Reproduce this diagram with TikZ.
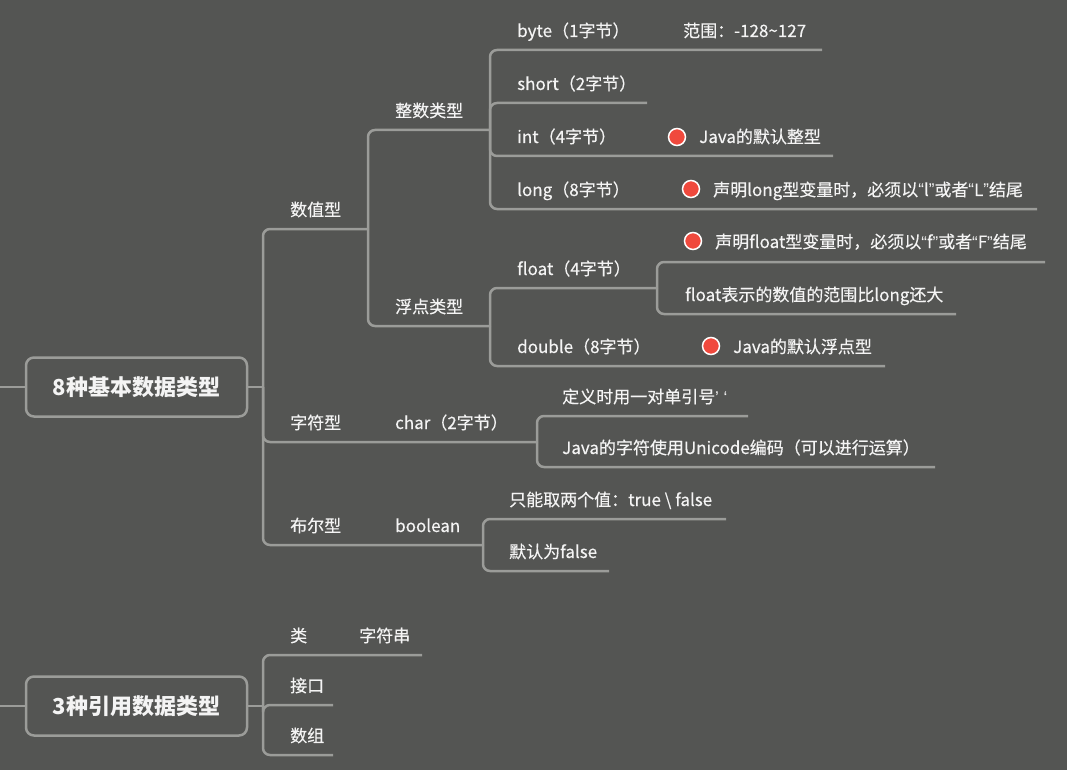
\documentclass[tikz,border=0pt]{standalone}
\usepackage{fontspec}
\setmainfont{Noto Sans CJK SC}
\newfontfamily\qfont{Liberation Sans}
\newfontfamily\lblfont{Noto Sans CJK SC}[FakeBold=0.3]
\definecolor{bg}{HTML}{545553}
\definecolor{ln}{HTML}{9B9C99}
\definecolor{tx}{HTML}{F4F4F4}
\definecolor{dotred}{HTML}{F0493D}
\tikzset{
  branch/.style={draw=ln, line width=2.5pt, rounded corners=7pt},
  lbl/.style={anchor=base west, inner sep=0pt, yshift=2pt, text=tx,
    font=\lblfont\fontsize{17}{20}\selectfont},
  rootbox/.style={draw=ln, line width=2.5pt, rounded corners=8pt, minimum width=221pt,
    minimum height=59pt, text=tx, font=\fontsize{22}{26}\selectfont\bfseries},
  reddot/.style={fill=dotred, draw=white, line width=1.5pt}
}
\begin{document}
\begin{tikzpicture}[x=1pt, y=-1pt]
  \fill[bg] (0,0) rectangle (1067,770);
  \useasboundingbox (0,0) rectangle (1067,770);

  % roots
  \node[rootbox] (basic) at (136.5,387) {8种基本数据类型};
  \node[rootbox] (ref) at (136.5,706) {3种引用数据类型};
  \coordinate (inA) at (0,387);
  \coordinate (inB) at (0,706);
  \coordinate (fA) at (263,387);
  \coordinate (fB) at (263,706);
  \draw[branch] (inA) -- (basic.west);
  \draw[branch] (basic.east) -- (fA);
  \draw[branch] (inB) -- (ref.west);
  \draw[branch] (ref.east) -- (fB);

  % forks
  \coordinate (fNum) at (368,229);
  \coordinate (fInt) at (490,130);
  \coordinate (fFlt) at (490,326);
  \coordinate (fFloat) at (657,288);
  \coordinate (fChar) at (537,442);
  \coordinate (fBool) at (483,545);

  % 8种基本数据类型
  \node[lbl] (num) at (290,218) {数值型};
  \draw[branch] (fA) |- (fNum);
  \node[lbl] (intT) at (395,119) {整数类型};
  \draw[branch] (fNum) |- (fInt);
  \node[lbl] (fltT) at (395,315) {浮点类型};
  \draw[branch] (fNum) |- (fFlt);

  \node[lbl] (byte) at (517,39) {byte（1字节）};
  \node[lbl] (range) at (683,39) {范围：-128\char"007E 127};
  \draw[branch] (fInt) |- (822,50);
  \node[lbl] (short) at (517,92) {short（2字节）};
  \draw[branch] (fInt) |- (647,103);
  \node[lbl] (int) at (517,145) {int（4字节）};
  \node[lbl] (intdef) at (699,145) {Java的默认整型};
  \draw[branch] (fInt) |- (833,156);
  \node[lbl] (long) at (517,198) {long（8字节）};
  \node[lbl] (longL) at (713,198) {声明long型变量时，必须以{\qfont“}l{\qfont”}或者{\qfont“}L{\qfont”}结尾};
  \draw[branch] (fInt) |- (1037,209);

  \node[lbl] (float) at (517,277) {float（4字节）};
  \draw[branch] (fFlt) |- (fFloat);
  \node[lbl] (floatF) at (715,250) {声明float型变量时，必须以{\qfont“}f{\qfont”}或者{\qfont“}F{\qfont”}结尾};
  \draw[branch] (fFloat) |- (1045,262);
  \node[lbl] (floatR) at (685,303) {float表示的数值的范围比long还大};
  \draw[branch] (fFloat) |- (956,314);
  \node[lbl] (double) at (517,355) {double（8字节）};
  \node[lbl] (dbldef) at (733,355) {Java的默认浮点型};
  \draw[branch] (fFlt) |- (885,366);

  \draw[reddot] (677,137) circle (8.5pt);
  \draw[reddot] (691,189) circle (8.5pt);
  \draw[reddot] (693,241) circle (8.5pt);
  \draw[reddot] (711,346) circle (8.5pt);

  \node[lbl] (chr) at (290,431) {字符型};
  \node[lbl] (char) at (395,431) {char（2字节）};
  \draw[branch] (fA) |- (fChar);
  \node[lbl] (quote) at (562,405) {定义时用一对单引号{\qfont’ ‘}};
  \draw[branch] (fChar) |- (748,416);
  \node[lbl] (uni) at (562,456) {Java的字符使用Unicode编码（可以进行运算）};
  \draw[branch] (fChar) |- (935,467);

  \node[lbl] (bool) at (290,534) {布尔型};
  \node[lbl] (boolean) at (395,534) {boolean};
  \draw[branch] (fA) |- (fBool);
  \node[lbl] (two) at (509,508) {只能取两个值：true \textbackslash\ false};
  \draw[branch] (fBool) |- (726,519);
  \node[lbl] (deflt) at (509,560) {默认为false};
  \draw[branch] (fBool) |- (609,571);

  % 3种引用数据类型
  \node[lbl] (cls) at (290,644) {类};
  \node[lbl] (str) at (359,644) {字符串};
  \draw[branch] (fB) |- (422,655);
  \node[lbl] (iface) at (290,694) {接口};
  \draw[branch] (fB) |- (333,705);
  \node[lbl] (arr) at (290,744) {数组};
  \draw[branch] (fB) |- (333,755);
\end{tikzpicture}
\end{document}
